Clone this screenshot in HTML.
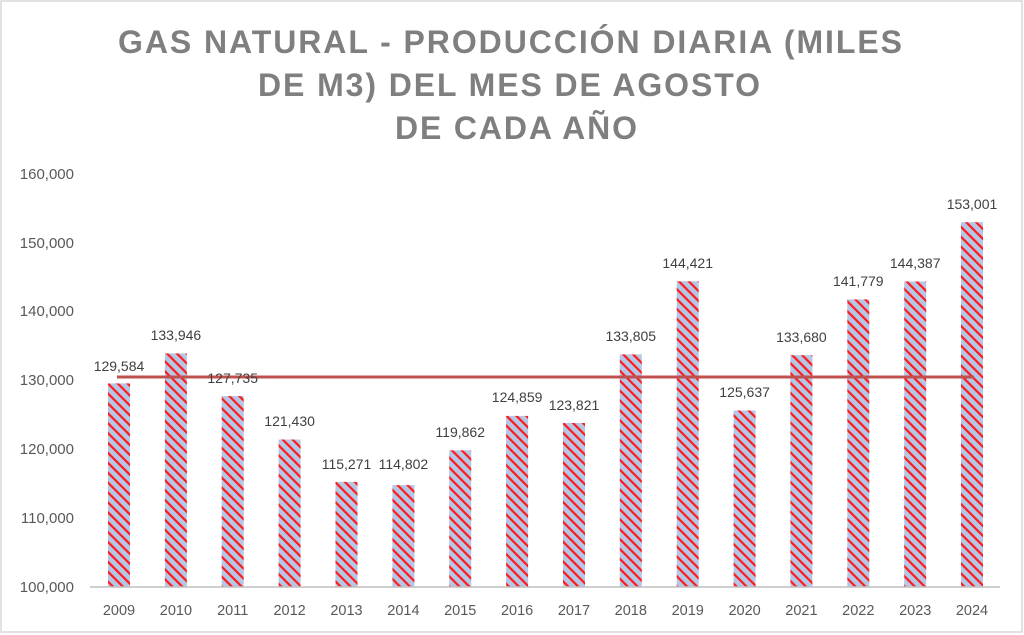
<!DOCTYPE html>
<html><head><meta charset="utf-8"><style>
html,body{margin:0;padding:0;background:#fff}
svg{display:block;font-family:"Liberation Sans",sans-serif}
</style></head><body>
<svg width="1024" height="635" viewBox="0 0 1024 635">
<defs>
<pattern id="p" patternUnits="userSpaceOnUse" width="7" height="7" patternTransform="rotate(-45)">
<rect width="7" height="7" fill="#b4c7e7"/>
<rect x="0" y="0" width="2.2" height="7" fill="#ff1a1a"/>
</pattern>
</defs>
<rect x="1" y="1" width="1021" height="631" fill="#fff" stroke="#d9d9d9" stroke-width="1.5"/>
<g fill="#7f7f7f" font-weight="bold" font-size="32" text-anchor="middle">
<text x="510" y="53" textLength="784" lengthAdjust="spacing">GAS NATURAL - PRODUCCIÓN DIARIA (MILES</text>
<text x="509" y="96" textLength="502" lengthAdjust="spacing">DE M3) DEL MES DE AGOSTO</text>
<text x="516" y="139" textLength="242" lengthAdjust="spacing">DE CADA AÑO</text>
</g>
<g fill="#595959" font-size="15" text-anchor="end">
<text x="74" y="592">100,000</text>
<text x="74" y="523">110,000</text>
<text x="74" y="454">120,000</text>
<text x="74" y="385">130,000</text>
<text x="74" y="316">140,000</text>
<text x="74" y="248">150,000</text>
<text x="74" y="179">160,000</text>
</g>
<g fill="url(#p)">
<rect x="108" y="383.4" width="22" height="203.6"/>
<rect x="164.9" y="353.4" width="22" height="233.6"/>
<rect x="221.7" y="396.1" width="22" height="190.9"/>
<rect x="278.6" y="439.5" width="22" height="147.5"/>
<rect x="335.5" y="481.9" width="22" height="105.1"/>
<rect x="392.4" y="485.1" width="22" height="101.9"/>
<rect x="449.2" y="450.3" width="22" height="136.7"/>
<rect x="506.1" y="415.9" width="22" height="171.1"/>
<rect x="563" y="423" width="22" height="164"/>
<rect x="619.8" y="354.4" width="22" height="232.6"/>
<rect x="676.7" y="281.3" width="22" height="305.7"/>
<rect x="733.6" y="410.5" width="22" height="176.5"/>
<rect x="790.4" y="355.2" width="22" height="231.8"/>
<rect x="847.3" y="299.4" width="22" height="287.6"/>
<rect x="904.2" y="281.5" width="22" height="305.5"/>
<rect x="961" y="222.2" width="22" height="364.8"/>
</g>
<line x1="90" y1="587" x2="1000" y2="587" stroke="#bfbfbf" stroke-width="1.5"/>
<line x1="117" y1="377" x2="974" y2="377" stroke="#c0504d" stroke-width="3"/>
<g fill="#404040" font-size="14" text-anchor="middle">
<text x="119" y="371">129,584</text>
<text x="175.9" y="340">133,946</text>
<text x="232.7" y="383">127,735</text>
<text x="289.6" y="426">121,430</text>
<text x="346.5" y="469">115,271</text>
<text x="403.4" y="469">114,802</text>
<text x="460.2" y="437">119,862</text>
<text x="517.1" y="402">124,859</text>
<text x="574" y="410">123,821</text>
<text x="630.8" y="341">133,805</text>
<text x="687.7" y="268">144,421</text>
<text x="744.6" y="397">125,637</text>
<text x="801.4" y="342">133,680</text>
<text x="858.3" y="286">141,779</text>
<text x="915.2" y="268">144,387</text>
<text x="972" y="209">153,001</text>
</g>
<g fill="#595959" font-size="14.5" text-anchor="middle">
<text x="119" y="615">2009</text>
<text x="175.9" y="615">2010</text>
<text x="232.7" y="615">2011</text>
<text x="289.6" y="615">2012</text>
<text x="346.5" y="615">2013</text>
<text x="403.4" y="615">2014</text>
<text x="460.2" y="615">2015</text>
<text x="517.1" y="615">2016</text>
<text x="574" y="615">2017</text>
<text x="630.8" y="615">2018</text>
<text x="687.7" y="615">2019</text>
<text x="744.6" y="615">2020</text>
<text x="801.4" y="615">2021</text>
<text x="858.3" y="615">2022</text>
<text x="915.2" y="615">2023</text>
<text x="972" y="615">2024</text>
</g>
</svg>
</body></html>
